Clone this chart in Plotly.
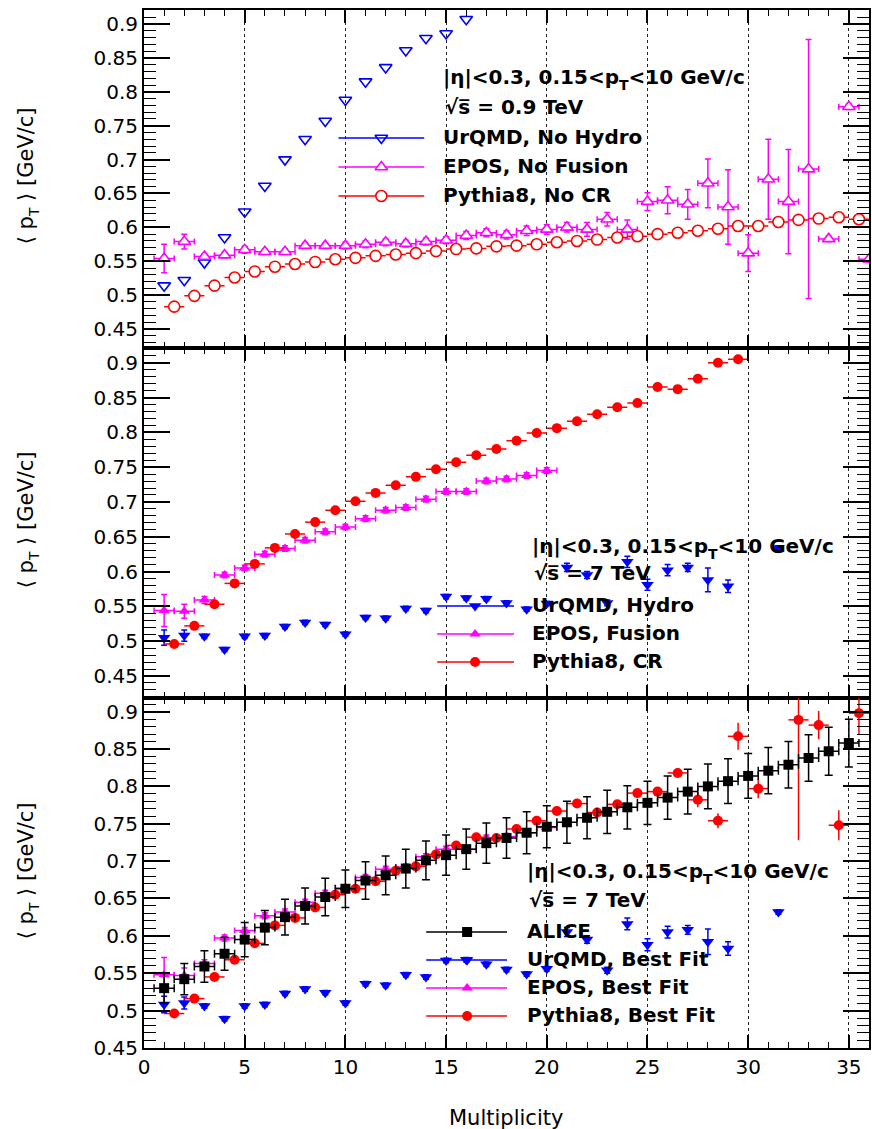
import plotly.graph_objects as go

# ---------------------------------------------------------------- data
# multiplicity bins
mult_1_16 = [1, 2, 3, 4, 5, 6, 7, 8, 9, 10, 11, 12, 13, 14, 15, 16]
mult_1_20 = [1, 2, 3, 4, 5, 6, 7, 8, 9, 10, 11, 12, 13, 14, 15, 16, 17, 18, 19, 20]
mult_1_35 = [1, 2, 3, 4, 5, 6, 7, 8, 9, 10, 11, 12, 13, 14, 15, 16, 17, 18, 19, 20,
             21, 22, 23, 24, 25, 26, 27, 28, 29, 30, 31, 32, 33, 34, 35]
mult_1_36 = mult_1_35 + [36]
mult_urqmd = [1, 2, 3, 4, 5, 6, 7, 8, 9, 10, 11, 12, 13, 14, 15, 16, 17, 18, 19, 20,
              21, 22, 23, 24, 25, 26, 27, 28, 29, 31.5]
mult_half_35 = [1.5, 2.5, 3.5, 4.5, 5.5, 6.5, 7.5, 8.5, 9.5, 10.5, 11.5, 12.5, 13.5, 14.5,
                15.5, 16.5, 17.5, 18.5, 19.5, 20.5, 21.5, 22.5, 23.5, 24.5, 25.5, 26.5,
                27.5, 28.5, 29.5, 30.5, 31.5, 32.5, 33.5, 34.5, 35.5]
mult_half_29 = [1.5, 2.5, 3.5, 4.5, 5.5, 6.5, 7.5, 8.5, 9.5, 10.5, 11.5, 12.5, 13.5, 14.5,
                15.5, 16.5, 17.5, 18.5, 19.5, 20.5, 21.5, 22.5, 23.5, 24.5, 25.5, 26.5,
                27.5, 28.5, 29.5]
mult_pythia_fit = [1.5, 2.5, 3.5, 4.5, 5.5, 6.5, 7.5, 8.5, 9.5, 10.5, 11.5, 12.5, 13.5, 14.5,
                   15.5, 16.5, 17.5, 18.5, 19.5, 20.5, 21.5, 22.5, 23.5, 24.5, 25.5, 26.5,
                   27.5, 28.5, 29.5, 30.5, 32.5, 33.5, 34.5, 35.5]

# --- sqrt(s) = 0.9 TeV, default model settings
urqmd_nohydro = [0.514, 0.522, 0.548, 0.585, 0.623, 0.661, 0.700, 0.730, 0.757, 0.788,
                 0.815, 0.836, 0.861, 0.879, 0.886, 0.907]
epos_nofusion = [0.554, 0.579, 0.557, 0.559, 0.567, 0.564, 0.564, 0.573, 0.573, 0.573,
                 0.575, 0.578, 0.576, 0.579, 0.581, 0.588, 0.592, 0.589, 0.595, 0.597,
                 0.600, 0.597, 0.612, 0.597, 0.638, 0.640, 0.634, 0.665, 0.630, 0.562,
                 0.671, 0.638, 0.686, 0.583, 0.778, 0.553]
epos_nofusion_err = [0.021, 0.011, 0.004, 0.004, 0.005, 0.004, 0.004, 0.004, 0.004, 0.005,
                     0.005, 0.005, 0.005, 0.005, 0.005, 0.006, 0.006, 0.006, 0.007, 0.007,
                     0.007, 0.010, 0.010, 0.014, 0.013, 0.020, 0.022, 0.036, 0.055, 0.027,
                     0.059, 0.077, 0.191, 0.004, 0.004, 0.004]
pythia_nocr = [0.483, 0.499, 0.514, 0.526, 0.535, 0.542, 0.546, 0.549, 0.553, 0.555,
               0.558, 0.560, 0.562, 0.565, 0.568, 0.569, 0.572, 0.573, 0.575, 0.578,
               0.580, 0.582, 0.585, 0.587, 0.590, 0.592, 0.595, 0.598, 0.602, 0.602,
               0.608, 0.611, 0.613, 0.615, 0.612]
pythia_nocr_err = [0.002, 0.002, 0.002, 0.002, 0.002, 0.002, 0.002, 0.002, 0.002, 0.002,
                   0.002, 0.002, 0.002, 0.002, 0.002, 0.002, 0.002, 0.002, 0.002, 0.002,
                   0.003, 0.003, 0.003, 0.003, 0.003, 0.003, 0.003, 0.003, 0.003, 0.003,
                   0.004, 0.004, 0.004, 0.004, 0.004]

# --- sqrt(s) = 7 TeV, collective effects switched on
urqmd_hydro = [0.505, 0.508, 0.507, 0.488, 0.507, 0.508, 0.521, 0.527, 0.524, 0.510,
               0.534, 0.533, 0.547, 0.544, 0.564, 0.562, 0.561, 0.555, 0.546, 0.554,
               0.606, 0.595, 0.555, 0.614, 0.581, 0.602, 0.606, 0.588, 0.579, 0.634]
urqmd_hydro_err = [0.011, 0.008, 0.003, 0.003, 0.003, 0.003, 0.003, 0.003, 0.003, 0.003,
                   0.003, 0.003, 0.003, 0.003, 0.003, 0.003, 0.003, 0.003, 0.003, 0.003,
                   0.006, 0.005, 0.004, 0.008, 0.008, 0.008, 0.006, 0.017, 0.009, 0.003]
epos_fusion = [0.544, 0.543, 0.559, 0.595, 0.605, 0.625, 0.633, 0.645, 0.657, 0.664,
               0.676, 0.688, 0.692, 0.704, 0.715, 0.715, 0.730, 0.733, 0.738, 0.745]
epos_fusion_err = [0.023, 0.010, 0.005, 0.004, 0.004, 0.004, 0.004, 0.004, 0.004, 0.004,
                   0.004, 0.004, 0.004, 0.004, 0.004, 0.004, 0.004, 0.004, 0.004, 0.004]
pythia_cr = [0.496, 0.522, 0.553, 0.583, 0.611, 0.634, 0.654, 0.671, 0.688, 0.701,
             0.713, 0.724, 0.736, 0.747, 0.757, 0.767, 0.776, 0.788, 0.799, 0.806,
             0.816, 0.826, 0.836, 0.842, 0.865, 0.862, 0.877, 0.900, 0.905]
pythia_cr_err = [0.003, 0.003, 0.003, 0.003, 0.003, 0.003, 0.003, 0.003, 0.003, 0.003,
                 0.003, 0.003, 0.003, 0.003, 0.003, 0.003, 0.003, 0.003, 0.003, 0.003,
                 0.003, 0.003, 0.003, 0.003, 0.003, 0.003, 0.003, 0.003, 0.003]

# --- sqrt(s) = 7 TeV, ALICE data and best-fit tunes
alice = [0.530, 0.542, 0.559, 0.576, 0.595, 0.611, 0.625, 0.640, 0.652, 0.663,
         0.674, 0.681, 0.690, 0.701, 0.708, 0.716, 0.724, 0.731, 0.738, 0.746,
         0.752, 0.758, 0.766, 0.772, 0.778, 0.785, 0.793, 0.800, 0.807, 0.814,
         0.821, 0.829, 0.838, 0.847, 0.858]
alice_err = [0.020, 0.021, 0.021, 0.022, 0.023, 0.023, 0.024, 0.024, 0.025, 0.025,
             0.025, 0.026, 0.026, 0.026, 0.027, 0.027, 0.027, 0.027, 0.028, 0.028,
             0.028, 0.028, 0.029, 0.029, 0.029, 0.029, 0.030, 0.030, 0.030, 0.030,
             0.031, 0.031, 0.031, 0.032, 0.032]
urqmd_fit = [0.508, 0.510, 0.506, 0.489, 0.506, 0.508, 0.523, 0.529, 0.524, 0.510,
             0.536, 0.534, 0.548, 0.545, 0.567, 0.568, 0.562, 0.555, 0.549, 0.556,
             0.605, 0.595, 0.554, 0.616, 0.588, 0.605, 0.608, 0.592, 0.583, 0.632]
urqmd_fit_err = [0.011, 0.008, 0.003, 0.003, 0.003, 0.003, 0.003, 0.003, 0.003, 0.003,
                 0.003, 0.003, 0.003, 0.003, 0.003, 0.003, 0.003, 0.003, 0.003, 0.003,
                 0.006, 0.005, 0.004, 0.008, 0.008, 0.008, 0.006, 0.017, 0.009, 0.003]
epos_fit = [0.548, 0.547, 0.563, 0.597, 0.607, 0.627, 0.632, 0.645, 0.657, 0.664,
            0.678, 0.689, 0.692, 0.706, 0.716, 0.716, 0.731, 0.733, 0.738, 0.745]
epos_fit_err = [0.023, 0.010, 0.005, 0.004, 0.004, 0.004, 0.004, 0.004, 0.004, 0.004,
                0.004, 0.004, 0.004, 0.004, 0.004, 0.004, 0.004, 0.004, 0.004, 0.004]
pythia_fit = [0.496, 0.516, 0.545, 0.568, 0.590, 0.614, 0.624, 0.638, 0.655, 0.663,
              0.673, 0.687, 0.693, 0.709, 0.721, 0.732, 0.731, 0.743, 0.754, 0.767,
              0.777, 0.765, 0.776, 0.791, 0.793, 0.818, 0.782, 0.754, 0.867, 0.797,
              0.889, 0.882, 0.748, 0.898]
pythia_fit_err = [0.003, 0.003, 0.003, 0.003, 0.003, 0.003, 0.003, 0.003, 0.003, 0.003,
                  0.003, 0.003, 0.003, 0.003, 0.003, 0.003, 0.003, 0.003, 0.003, 0.003,
                  0.004, 0.004, 0.004, 0.004, 0.004, 0.006, 0.010, 0.010, 0.018, 0.013,
                  0.161, 0.019, 0.020, 0.029]

x_ticks = [0, 5, 10, 15, 20, 25, 30, 35]

# ---------------------------------------------------------------- layout constants
W, H = 872, 1129
M_L, M_R, M_T, M_B = 144, 1, 10, 81
PLOT_W = W - M_L - M_R
PLOT_H = H - M_T - M_B
FONT = "DejaVu Sans"

BLUE, MAGENTA, RED, BLACK = "#0000ff", "#ff00ff", "#ff0000", "#000000"

# p_T with a lowered "T" (baseline shift instead of <sub>)
PT_HEAD = "p<span style='font-size:14px;baseline-shift:-6px'>T</span>"
PT_TITLE = "p<span style='font-size:14px;baseline-shift:-6px'>T</span>"


def fx(px):
    return (px - M_L) / PLOT_W


def fy(py):
    return (H - M_B - py) / PLOT_H


fig = go.Figure()


def add_points(ax, x, y, color, symbol, size, yerr=None, xbar=True, caps=3,
               hollow=False, open_symbol=False):
    marker = dict(symbol=symbol, size=size, color=color, line=dict(width=0))
    if hollow:
        marker = dict(symbol=symbol, size=size, color="white",
                      line=dict(color=color, width=1.6))
    if open_symbol:
        marker = dict(symbol=symbol, size=size, color=color,
                      line=dict(color=color, width=1.6))
    tr = dict(x=x, y=y, mode="markers", marker=marker, showlegend=False,
              xaxis="x" + ("" if ax == 1 else str(ax)),
              yaxis="y" + ("" if ax == 1 else str(ax)))
    if xbar:
        tr["error_x"] = dict(type="constant", value=0.5, color=color,
                             thickness=1.5, width=caps)
    if yerr is not None:
        tr["error_y"] = dict(type="data", array=yerr, color=color,
                             thickness=1.5, width=caps)
    fig.add_trace(go.Scatter(**tr))


# top panel: 0.9 TeV
add_points(1, mult_1_16, urqmd_nohydro, BLUE, "triangle-down-open", 11,
           xbar=False, open_symbol=True)
add_points(1, mult_1_36, epos_nofusion, MAGENTA, "triangle-up", 11,
           yerr=epos_nofusion_err, caps=3, hollow=True)
add_points(1, mult_half_35, pythia_nocr, RED, "circle", 11,
           yerr=pythia_nocr_err, caps=0, hollow=True)

# middle panel: 7 TeV
add_points(2, mult_urqmd, urqmd_hydro, BLUE, "triangle-down", 11,
           yerr=urqmd_hydro_err, xbar=False, caps=3)
add_points(2, mult_1_20, epos_fusion, MAGENTA, "triangle-up", 10,
           yerr=epos_fusion_err, caps=3)
add_points(2, mult_half_29, pythia_cr, RED, "circle", 10,
           yerr=pythia_cr_err, caps=0)

# bottom panel: 7 TeV, data vs best fits
add_points(3, mult_urqmd, urqmd_fit, BLUE, "triangle-down", 11,
           yerr=urqmd_fit_err, xbar=False, caps=3)
add_points(3, mult_1_20, epos_fit, MAGENTA, "triangle-up", 10,
           yerr=epos_fit_err, caps=3)
add_points(3, mult_pythia_fit, pythia_fit, RED, "circle", 10,
           yerr=pythia_fit_err, caps=0)
add_points(3, mult_1_35, alice, BLACK, "square", 10,
           yerr=alice_err, caps=4)

# ---------------------------------------------------------------- legends
legend_rows = [
    # (line x0, line x1, marker x, row y, symbol, size, color, style, label, text x)
    (339, 425, 382, 138, "triangle-down-open", 11, BLUE, "open", "UrQMD, No Hydro", 442),
    (339, 425, 382, 167, "triangle-up", 11, MAGENTA, "hollow", "EPOS, No Fusion", 442),
    (339, 425, 382, 196, "circle", 11, RED, "hollow", "Pythia8, No CR", 442),
    (438, 515, 476, 606, "triangle-down", 11, BLUE, "filled", "UrQMD, Hydro", 531),
    (438, 515, 476, 634, "triangle-up", 10, MAGENTA, "filled", "EPOS, Fusion", 531),
    (438, 515, 476, 662, "circle", 10, RED, "filled", "Pythia8, CR", 531),
    (427, 508, 468, 932, "square", 10, BLACK, "filled", "ALICE", 526),
    (427, 508, 468, 960, "triangle-down", 11, BLUE, "filled", "UrQMD, Best Fit", 526),
    (427, 508, 468, 988, "triangle-up", 10, MAGENTA, "filled", "EPOS, Best Fit", 526),
    (427, 508, 468, 1016, "circle", 10, RED, "filled", "Pythia8, Best Fit", 526),
]
header_rows = [
    # (text x, first line y, second line y, energy)
    (442, 79, 107, "0.9"),
    (531, 548, 573, "7"),
    (526, 873, 900, "7"),
]

annotations = []
for x0, x1, xm, yy, sym, size, color, style, label, tx in legend_rows:
    fig.add_trace(go.Scatter(x=[x0, x1], y=[yy, yy], mode="lines",
                             line=dict(color=color, width=1.5),
                             xaxis="x4", yaxis="y4", showlegend=False))
    if style == "filled":
        mk = dict(symbol=sym, size=size, color=color, line=dict(width=0))
    elif style == "hollow":
        mk = dict(symbol=sym, size=size, color="white", line=dict(color=color, width=1.6))
    else:
        mk = dict(symbol=sym, size=size, color=color, line=dict(color=color, width=1.6))
    fig.add_trace(go.Scatter(x=[xm], y=[yy], mode="markers", marker=mk,
                             xaxis="x4", yaxis="y4", showlegend=False,
                             cliponaxis=False))
    annotations.append(dict(x=fx(tx), y=fy(yy - 1), xref="paper", yref="paper",
                            text="<b>%s</b>" % label, showarrow=False,
                            xanchor="left", yanchor="middle",
                            font=dict(family=FONT, size=20, color="black")))

for tx, y1, y2, energy in header_rows:
    annotations.append(dict(
        x=fx(tx), y=fy(y1), xref="paper", yref="paper", showarrow=False,
        xanchor="left", yanchor="middle",
        text="<b>|η|&lt;0.3, 0.15&lt;%s&lt;10 GeV/c</b>" % PT_HEAD,
        font=dict(family=FONT, size=20, color="black")))
    annotations.append(dict(
        x=fx(tx + 2), y=fy(y2), xref="paper", yref="paper", showarrow=False,
        xanchor="left", yanchor="middle",
        text="<b>√s\u0305 = %s TeV</b>" % energy,
        font=dict(family=FONT, size=20, color="black")))

# axis titles
for yc in (176, 520, 871):
    annotations.append(dict(
        x=fx(28), y=fy(yc), xref="paper", yref="paper", showarrow=False,
        textangle=-90, xanchor="center", yanchor="middle",
        text="⟨ %s ⟩ [GeV/c]" % PT_TITLE,
        font=dict(family=FONT, size=21, color="black")))
annotations.append(dict(
    x=fx(507), y=fy(1118), xref="paper", yref="paper", showarrow=False,
    xanchor="center", yanchor="middle", text="Multiplicity",
    font=dict(family=FONT, size=21, color="black")))

# ---------------------------------------------------------------- axes
tick_font = dict(family=FONT, size=20, color="black")


def x_axis(anchor, labels):
    return dict(
        anchor=anchor, domain=[0, 1], range=[0, 36],
        tickmode="array", tickvals=x_ticks, ticks="inside", ticklen=13,
        tickwidth=1.5, tickcolor="black",
        minor=dict(dtick=1, tick0=0, ticks="inside", ticklen=6, tickwidth=1.2,
                   tickcolor="black", showgrid=False),
        showticklabels=labels, tickfont=tick_font,
        showline=True, linewidth=2, linecolor="black", mirror="ticks",
        showgrid=True, gridcolor="#222222", gridwidth=1, griddash="dot",
        zeroline=False, fixedrange=True)


def y_axis(anchor, domain, rng):
    return dict(
        anchor=anchor, domain=domain, range=rng,
        tickmode="linear", tick0=0, dtick=0.05, ticks="inside", ticklen=26,
        tickwidth=1.5, tickcolor="black",
        minor=dict(dtick=0.01, tick0=0, ticks="inside", ticklen=12, tickwidth=1.2,
                   tickcolor="black", showgrid=False),
        tickfont=tick_font,
        showline=True, linewidth=2, linecolor="black", mirror="ticks",
        showgrid=False, zeroline=False, fixedrange=True)


fig.update_layout(
    width=W, height=H,
    margin=dict(l=M_L, r=M_R, t=M_T, b=M_B, pad=0),
    paper_bgcolor="white", plot_bgcolor="rgba(0,0,0,0)",
    font=dict(family=FONT, color="black"),
    xaxis=x_axis("y", False),
    xaxis2=x_axis("y2", False),
    xaxis3=x_axis("y3", True),
    yaxis=y_axis("x", [0.6739, 1.0], [0.4213, 0.9207]),
    yaxis2=y_axis("x2", [0.3372, 0.6739], [0.4184, 0.9204]),
    yaxis3=y_axis("x3", [0.0, 0.3372], [0.4499, 0.9183]),
    xaxis4=dict(anchor="y4", domain=[0, 1], range=[M_L, W - M_R], visible=False,
                fixedrange=True),
    yaxis4=dict(anchor="x4", domain=[0, 1], range=[H - M_B, M_T], visible=False,
                fixedrange=True),
    annotations=annotations,
)

fig.write_html("out.html")
